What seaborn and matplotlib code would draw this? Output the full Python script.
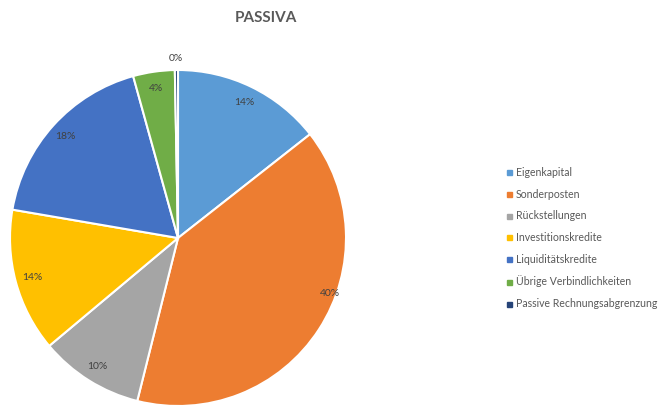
import numpy as np
import matplotlib
matplotlib.use("Agg")
import matplotlib.pyplot as plt
from matplotlib.lines import Line2D
import seaborn as sns

categories = [
    "Eigenkapital",
    "Sonderposten",
    "Rückstellungen",
    "Investitionskredite",
    "Liquiditätskredite",
    "Übrige Verbindlichkeiten",
    "Passive Rechnungsabgrenzung",
]
shares = [14.4, 39.5, 10.0, 13.8, 18.0, 4.0, 0.3]
colors = ["#5B9BD5", "#ED7D31", "#A5A5A5", "#FFC000", "#4472C4", "#70AD47", "#264478"]

sns.set_theme(style="white")
plt.rcParams["font.family"] = ["Lato", "DejaVu Sans"]
text_color = "#595959"

fig = plt.figure(figsize=(6.65, 4.05), dpi=100)
ax = fig.add_axes([10 / 665, -1 / 405, 336 / 665, 336 / 405])

wedges, texts = ax.pie(
    shares,
    colors=colors,
    startangle=90,
    counterclock=False,
    wedgeprops={"edgecolor": "white", "linewidth": 1.5},
)
ax.set_xlim(-1, 1)
ax.set_ylim(-1, 1)
ax.set_aspect("equal")

# percent labels near the outer edge, like Excel's "inside end"
for i, w in enumerate(wedges):
    theta = np.deg2rad((w.theta1 + w.theta2) / 2)
    dist = 0.9
    if shares[i] < 1:
        dist = 1.07
    if i == 1:
        theta = np.deg2rad((w.theta1 + w.theta2) / 2 + 13)
        dist = 0.96
    ax.text(dist * np.cos(theta), dist * np.sin(theta), f"{shares[i]:.0f}%",
            ha="center", va="center", fontsize=7.5, color="#404040")

fig.text(266 / 665, 1 - 18 / 405, "PASSIVA", ha="center", va="center",
         fontsize=11, fontweight="bold", color=text_color)

handles = [Line2D([], [], marker="s", linestyle="none", markersize=3.6,
                  markerfacecolor=c, markeredgecolor=c) for c in colors]
leg = fig.legend(handles, categories, loc="center left",
                 bbox_to_anchor=(501 / 665, 1 - 238 / 405), frameon=False,
                 fontsize=7.6, handlelength=0.5, handletextpad=0.4,
                 labelspacing=1.02, borderpad=0)
for t in leg.get_texts():
    t.set_color(text_color)

fig.savefig("out.png", dpi=100)
